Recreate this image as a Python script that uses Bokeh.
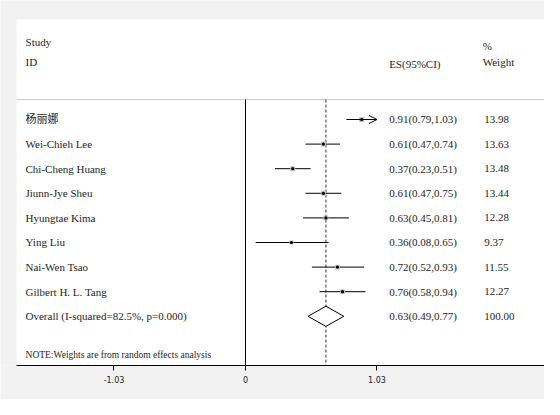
import math
from bokeh.plotting import figure
from bokeh.models import Range1d, LinearAxis, FixedTicker, Arrow, OpenHead, ColumnDataSource
from bokeh.core.properties import value
from bokeh.embed import file_html
from bokeh.resources import INLINE

# ---- data ----
studies = ["杨丽娜", "Wei-Chieh Lee", "Chi-Cheng Huang", "Jiunn-Jye Sheu",
           "Hyungtae Kima", "Ying Liu", "Nai-Wen Tsao", "Gilbert H. L. Tang"]
es = [0.91, 0.61, 0.37, 0.61, 0.63, 0.36, 0.72, 0.76]
lo = [0.79, 0.47, 0.23, 0.47, 0.45, 0.08, 0.52, 0.58]
hi = [1.03, 0.74, 0.51, 0.75, 0.81, 0.65, 0.93, 0.94]
weights = [13.98, 13.63, 13.48, 13.44, 12.28, 9.37, 11.55, 12.27]
overall_label = "Overall (I-squared=82.5%, p=0.000)"
overall_es, overall_lo, overall_hi, overall_w = 0.63, 0.49, 0.77, 100.00
note = "NOTE:Weights are from random effects analysis"
tick_values = [-1.03, 0, 1.03]
tick_labels = ["-1.03", "0", "1.03"]
x_clip = 1.03

# ---- layout constants ----
X0, X1 = -1.919, 2.342
Y_BOTTOM, Y_TOP = 10.0, -4.837
PANEL_LEFT = -1.7937
PANEL_TOP = -4.065
SEP_Y = -0.81
LABEL_X = -1.723
ES_X = 1.125
W_X = 1.87
BG = "#f2f2f2"
TXT = "#1e1e1e"
SERIF = value("'Liberation Serif', 'Noto Sans CJK SC', serif")

p = figure(width=544, height=399, x_range=Range1d(X0, X1), y_range=Range1d(Y_BOTTOM, Y_TOP),
           output_backend="svg", toolbar_location=None, x_axis_type=None, y_axis_type=None,
           min_border_left=0, min_border_right=0, min_border_top=0, min_border_bottom=34)
p.background_fill_color = BG
p.border_fill_color = BG
p.outline_line_color = None

# white panel
p.quad(left=[PANEL_LEFT], right=[X1], top=[PANEL_TOP], bottom=[Y_BOTTOM],
       fill_color="white", line_color=None)

n = len(studies)
rows = list(range(n))
overall_row = n
note_row = n + 1.59

# header separator
p.segment(x0=[PANEL_LEFT], x1=[X1], y0=[SEP_Y], y1=[SEP_Y], line_color="#c8c8c8", line_width=1)
# zero line
p.segment(x0=[0], x1=[0], y0=[SEP_Y], y1=[Y_BOTTOM], line_color="black", line_width=1)
# overall dashed line
p.segment(x0=[overall_es], x1=[overall_es], y0=[SEP_Y], y1=[Y_BOTTOM],
          line_color="#333333", line_width=1, line_dash="3 2")

# CI lines
seg_idx = [i for i in rows if hi[i] < x_clip]
arr_idx = [i for i in rows if hi[i] >= x_clip]
p.segment(x0=[lo[i] for i in seg_idx], x1=[hi[i] for i in seg_idx],
          y0=[rows[i] for i in seg_idx], y1=[rows[i] for i in seg_idx],
          line_color="black", line_width=1)
arr_src = ColumnDataSource(dict(xs=[lo[i] for i in arr_idx], xe=[min(hi[i], x_clip) for i in arr_idx],
                                y=[rows[i] for i in arr_idx]))
p.add_layout(Arrow(end=OpenHead(size=8, line_width=1, line_color="black"),
                   x_start="xs", x_end="xe", y_start="y", y_end="y",
                   line_color="black", line_width=1, source=arr_src))

# weight boxes and point estimates
p.scatter(x=es, y=rows, marker="square", size=[1.35 * math.sqrt(w) for w in weights],
          fill_color="#c4c4c4", line_color=None)
p.scatter(x=es, y=rows, marker="circle", size=3.2, fill_color="black", line_color=None)

# overall diamond
h = 0.41
p.patch(x=[overall_lo, overall_es, overall_hi, overall_es],
        y=[overall_row, overall_row - h, overall_row, overall_row + h],
        fill_color="white", line_color="black", line_width=1)

# texts
lab_y = rows + [overall_row]
p.text(x=[LABEL_X] * (n + 1), y=lab_y, text=studies + [overall_label], text_font=SERIF,
       text_font_size="11px", text_baseline="middle", text_align="left", text_color=TXT)
es_txt = [f"{e:.2f}({l:.2f},{u:.2f})" for e, l, u in zip(es, lo, hi)] + \
         [f"{overall_es:.2f}({overall_lo:.2f},{overall_hi:.2f})"]
p.text(x=[ES_X] * (n + 1), y=lab_y, text=es_txt, text_font=SERIF,
       text_font_size="11px", text_baseline="middle", text_align="left", text_color=TXT)
w_txt = [(" " if w < 10 else "") + f"{w:.2f}" for w in weights] + [f"{overall_w:.2f}"]
p.text(x=[W_X] * (n + 1), y=lab_y, text=w_txt, text_font=SERIF,
       text_font_size="11px", text_baseline="middle", text_align="left", text_color=TXT)

# headers
p.text(x=[LABEL_X, LABEL_X, ES_X, W_X - 0.012, W_X - 0.012],
       y=[-3.17, -2.32, -2.24, -3.0, -2.32],
       text=["Study", "ID", "ES(95%CI)", "%", "Weight"], text_font=SERIF,
       text_font_size="11px", text_baseline="middle", text_align="left", text_color=TXT)

# note
p.text(x=[LABEL_X], y=[note_row], text=[note], text_font=SERIF,
       text_font_size="9.5px", text_baseline="middle", text_align="left", text_color=TXT)

# x axis
ax = LinearAxis(ticker=FixedTicker(ticks=tick_values),
                major_label_overrides=dict(zip(tick_values, tick_labels)),
                bounds=(PANEL_LEFT, X1))
ax.axis_line_color = "black"
ax.major_tick_in = 0
ax.major_tick_out = 5
ax.minor_tick_in = 0
ax.minor_tick_out = 0
ax.major_tick_line_color = "black"
ax.major_label_standoff = 5
ax.major_label_text_font = "DejaVu Sans"
ax.major_label_text_font_size = "8px"
ax.major_label_text_color = "#222222"
p.add_layout(ax, "below")

html = file_html(p, INLINE)
html = html.replace("<body>", f'<body style="background-color:{BG};">', 1)
open("out.html", "w").write(html)
